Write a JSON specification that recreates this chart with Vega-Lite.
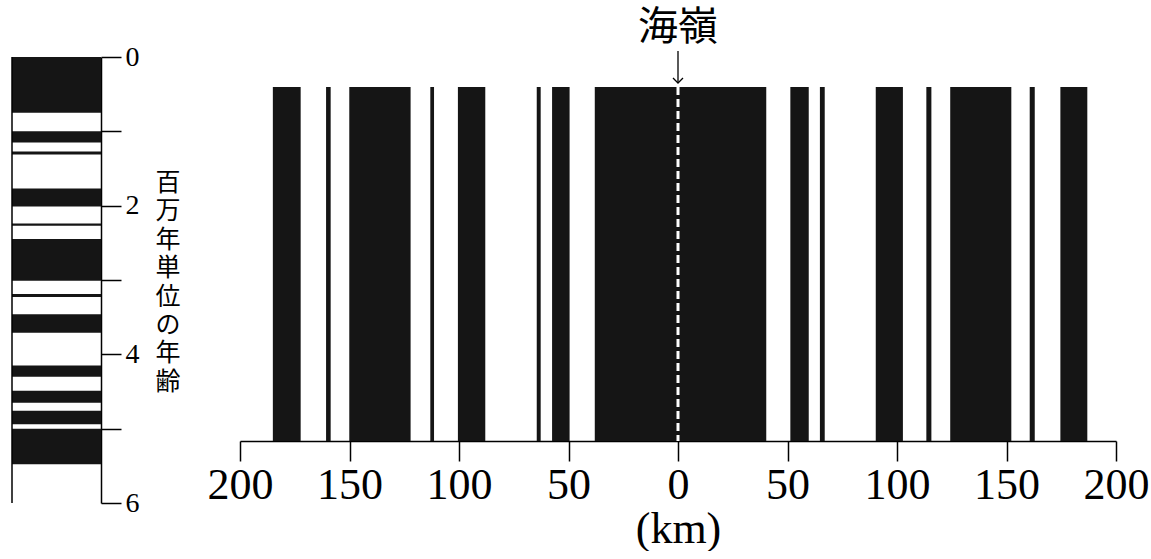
{
  "$schema": "https://vega.github.io/schema/vega-lite/v6.json",
  "padding": {"left": 11, "top": 7, "right": 0, "bottom": 0},
  "background": "white",
  "bounds": "flush",
  "spacing": 139,
  "config": {"view": {"stroke": null}},
  "datasets": {
    "timescale": [
      {"start": 0, "end": 0.75},
      {"start": 1.0, "end": 1.15},
      {"start": 1.27, "end": 1.31},
      {"start": 1.77, "end": 2.01},
      {"start": 2.24, "end": 2.27},
      {"start": 2.45, "end": 3.01},
      {"start": 3.19, "end": 3.23},
      {"start": 3.46, "end": 3.71},
      {"start": 4.15, "end": 4.30},
      {"start": 4.49, "end": 4.65},
      {"start": 4.76, "end": 4.94},
      {"start": 5.0, "end": 5.48}
    ],
    "stripes": [
      {"from": -185, "to": -172.3},
      {"from": -160.7, "to": -158.6},
      {"from": -150.1, "to": -122.1},
      {"from": -113.1, "to": -111.4},
      {"from": -100.5, "to": -88},
      {"from": -64.5, "to": -62.7},
      {"from": -57.5, "to": -49.5},
      {"from": -38, "to": 40.3},
      {"from": 51.3, "to": 59.7},
      {"from": 64.8, "to": 67},
      {"from": 90.3, "to": 102.7},
      {"from": 113.4, "to": 115.7},
      {"from": 124.3, "to": 152.2},
      {"from": 160.6, "to": 162.9},
      {"from": 174.6, "to": 186.9}
    ]
  },
  "hconcat": [
    {
      "width": 89,
      "height": 446,
      "layer": [
        {
          "data": {"name": "timescale"},
          "mark": {"type": "rect", "color": "#151515"},
          "encoding": {
            "x": {"datum": 0, "type": "quantitative", "scale": {"domain": [0, 1], "nice": false}, "axis": null},
            "x2": {"datum": 1},
            "y": {
              "field": "start", "type": "quantitative",
              "scale": {"domain": [0, 6], "reverse": true, "nice": false},
              "axis": {
                "orient": "right",
                "values": [0, 1, 2, 3, 4, 5, 6],
                "labelExpr": "datum.value % 2 == 0 ? format(datum.value, 'd') : ''",
                "grid": false,
                "tickSize": 20, "tickColor": "black", "tickWidth": 1.5,
                "domainColor": "black", "domainWidth": 1.5,
                "labelFont": "Liberation Serif", "labelFontSize": 28, "labelColor": "black",
                "labelPadding": 4, "labelOverlap": false, "labelFlush": false,
                "title": null
              }
            },
            "y2": {"field": "end"}
          }
        },
        {
          "data": {"values": [{}]},
          "mark": {"type": "rule", "color": "black", "strokeWidth": 1.5},
          "encoding": {
            "x": {"datum": 0, "type": "quantitative"},
            "y": {"datum": 0, "type": "quantitative"},
            "y2": {"datum": 6}
          }
        },
        {
          "data": {"values": [{}]},
          "mark": {"type": "text", "text": ["百", "万", "年", "単", "位", "の", "年", "齢"], "font": "Noto Sans CJK JP", "fontSize": 25, "lineHeight": 28.4, "baseline": "middle", "align": "center", "color": "black"},
          "encoding": {
            "x": {"datum": 1.753, "type": "quantitative"},
            "y": {"datum": 1.695, "type": "quantitative"}
          }
        }
      ]
    },
    {
      "width": 876,
      "height": 384,
      "layer": [
        {
          "data": {"name": "stripes"},
          "mark": {"type": "rect", "color": "#151515"},
          "encoding": {
            "x": {
              "field": "from", "type": "quantitative",
              "scale": {"domain": [-200, 200], "nice": false, "zero": false},
              "axis": {
                "values": [-200, -150, -100, -50, 0, 50, 100, 150, 200],
                "labelExpr": "abs(datum.value)",
                "grid": false,
                "tickSize": 20, "tickColor": "black", "tickWidth": 1.5,
                "domainColor": "black", "domainWidth": 1.5,
                "labelFont": "Liberation Serif", "labelFontSize": 44, "labelColor": "black",
                "labelPadding": 2, "labelOverlap": false, "labelFlush": false,
                "title": "(km)", "titleFont": "Liberation Serif", "titleFontSize": 44,
                "titleFontWeight": "normal", "titleColor": "black", "titlePadding": 0
              }
            },
            "x2": {"field": "to"},
            "y": {"datum": 0, "type": "quantitative", "scale": {"domain": [0, 1.0847], "nice": false}, "axis": null},
            "y2": {"datum": 1}
          }
        },
        {
          "data": {"values": [{}]},
          "mark": {"type": "rule", "color": "white", "strokeWidth": 3, "strokeDash": [8, 4]},
          "encoding": {
            "x": {"datum": 0, "type": "quantitative"},
            "y": {"datum": 1, "type": "quantitative"},
            "y2": {"datum": 0}
          }
        },
        {
          "data": {"values": [{}]},
          "mark": {"type": "rule", "color": "black", "strokeWidth": 1.3},
          "encoding": {
            "x": {"datum": 0, "type": "quantitative"},
            "y": {"datum": 1.1017, "type": "quantitative"},
            "y2": {"datum": 1.0113}
          }
        },
        {
          "data": {"values": [{}]},
          "mark": {"type": "point", "shape": "M-1,-1L0,0L1,-1", "filled": false, "size": 100, "strokeWidth": 1.3, "color": "black", "opacity": 1},
          "encoding": {
            "x": {"datum": 0, "type": "quantitative"},
            "y": {"datum": 1.0113, "type": "quantitative"}
          }
        },
        {
          "data": {"values": [{}]},
          "mark": {"type": "text", "text": "海嶺", "font": "Noto Sans CJK JP", "fontSize": 40, "baseline": "middle", "align": "center", "color": "black"},
          "encoding": {
            "x": {"datum": 0, "type": "quantitative"},
            "y": {"datum": 1.1667, "type": "quantitative"}
          }
        }
      ]
    }
  ]
}
